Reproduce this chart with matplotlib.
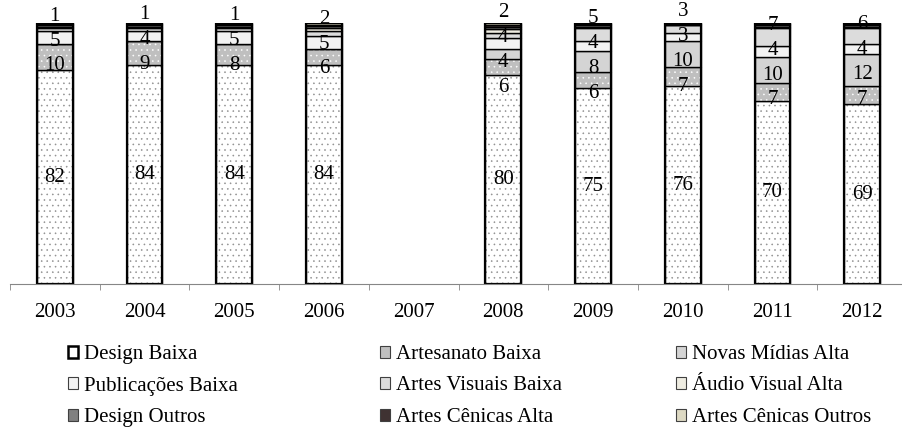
import numpy as np
import matplotlib.pyplot as plt
from matplotlib.patches import Patch

plt.rcParams['font.family'] = ['Liberation Serif', 'DejaVu Serif']
plt.rcParams['hatch.linewidth'] = 0.4

years = ['2003', '2004', '2005', '2006', '2007', '2008', '2009', '2010', '2011', '2012']
design_baixa = [82, 84, 84, 84, 0, 80, 75, 76, 70, 69]
artesanato_baixa = [10, 9, 8, 6, 0, 6, 6, 7, 7, 7]
novas_midias_alta = [0, 0, 0, 0, 0, 4, 8, 10, 10, 12]
publicacoes_baixa = [5, 4, 5, 5, 0, 4, 4, 3, 4, 4]
artes_visuais_baixa = [1, 1, 1, 2, 0, 2, 5, 3, 7, 6]
audio_visual_alta = [0.5, 0.5, 0.5, 1, 0, 1.5, 0.5, 0.3, 0.5, 0.5]
design_outros = [0.7, 0.7, 0.7, 0.7, 0, 1, 0.5, 0.3, 0.5, 0.5]
artes_cenicas_alta = [0.3, 0.3, 0.3, 0.3, 0, 0.5, 0.5, 0.2, 0.5, 0.5]
artes_cenicas_outros = [0.5, 0.5, 0.5, 1, 0, 1, 0.5, 0.2, 0.5, 0.5]

names = ['Design Baixa', 'Artesanato Baixa', 'Novas Mídias Alta',
         'Publicações Baixa', 'Artes Visuais Baixa', 'Áudio Visual Alta',
         'Design Outros', 'Artes Cênicas Alta', 'Artes Cênicas Outros']
series = [design_baixa, artesanato_baixa, novas_midias_alta, publicacoes_baixa,
          artes_visuais_baixa, audio_visual_alta, design_outros,
          artes_cenicas_alta, artes_cenicas_outros]
colors = ['white', '#bfbfbf', '#d4d4d4', '#f2f2f2', '#dcdcdc',
          '#eeece1', '#808080', '#3f3232', '#ddd9c3']
hatches = ['...', '...', None, None, None, None, None, None, None]
dotcol = ['#909090', 'white', None, None, None, None, None, None, None]

data = np.array(series, dtype=float)
totals = data.sum(axis=0)
keep = totals > 0
x = np.arange(len(years))[keep]
pct = data[:, keep] / totals[keep] * 100
width = 0.4

fig = plt.figure(figsize=(9.02, 4.34), dpi=100)
ax = fig.add_axes([10.0 / 902, 0.3445, 897.0 / 902, 0.6032])

bottom = np.zeros(len(x))
for vals, c, h, dc in zip(pct, colors, hatches, dotcol):
    if h:
        ax.bar(x, vals, width, bottom=bottom, color=c, hatch=h, edgecolor=dc, linewidth=0)
    else:
        ax.bar(x, vals, width, bottom=bottom, color=c, linewidth=0)
    ax.bar(x, vals, width, bottom=bottom, fill=False, edgecolor='black', linewidth=1.0)
    bottom += vals
ax.bar(x, bottom, width, fill=False, edgecolor='black', linewidth=1.6)

# labels: big segment centred, the small ones spread out above
cum = np.cumsum(pct, axis=0)
for j, xi in enumerate(x):
    raw = data[:, keep][:, j]
    ax.text(xi, pct[0, j] / 2, '%d' % raw[0], ha='center', va='center', fontsize=15)
    centers, labs = [], []
    for k in range(1, 5):
        if raw[k] > 0:
            centers.append(cum[k, j] - pct[k, j] / 2)
            labs.append('%d' % raw[k])
    m = np.mean(centers)
    n = len(centers)
    for i, lab in enumerate(labs):
        ax.text(xi, m + (i - (n - 1) / 2) * 9.5, lab, ha='center', va='center', fontsize=15)

ax.set_xlim(-0.5, len(years) - 0.5)
ax.set_ylim(0, 100)
for s in ['left', 'right', 'top']:
    ax.spines[s].set_visible(False)
ax.spines['bottom'].set_color('#868686')
ax.set_yticks([])
ax.set_xticks(np.arange(len(years)))
ax.set_xticklabels(years, fontsize=15)
ax.set_xticks(np.arange(len(years) + 1) - 0.5, minor=True)
ax.tick_params(axis='x', which='major', length=0, pad=13)
ax.tick_params(axis='x', which='minor', length=4, color='#868686', direction='out')

handles = []
for i, (nm, c) in enumerate(zip(names, colors)):
    if i == 0:
        handles.append(Patch(facecolor=c, edgecolor='black', linewidth=1.8, label=nm))
    else:
        handles.append(Patch(facecolor=c, edgecolor='#404040', linewidth=0.8, label=nm))

col_x = [68, 380, 676]
for col in range(3):
    hs = handles[col::3]
    fig.legend(handles=hs, labels=[h.get_label() for h in hs], loc='upper left',
               bbox_to_anchor=(col_x[col] / 902, 1 - 345 / 434), frameon=False,
               fontsize=15, handlelength=0.5, handleheight=0.5, handletextpad=0.25,
               labelspacing=0.6, borderpad=0, borderaxespad=0)

fig.savefig('out.png', dpi=100)
